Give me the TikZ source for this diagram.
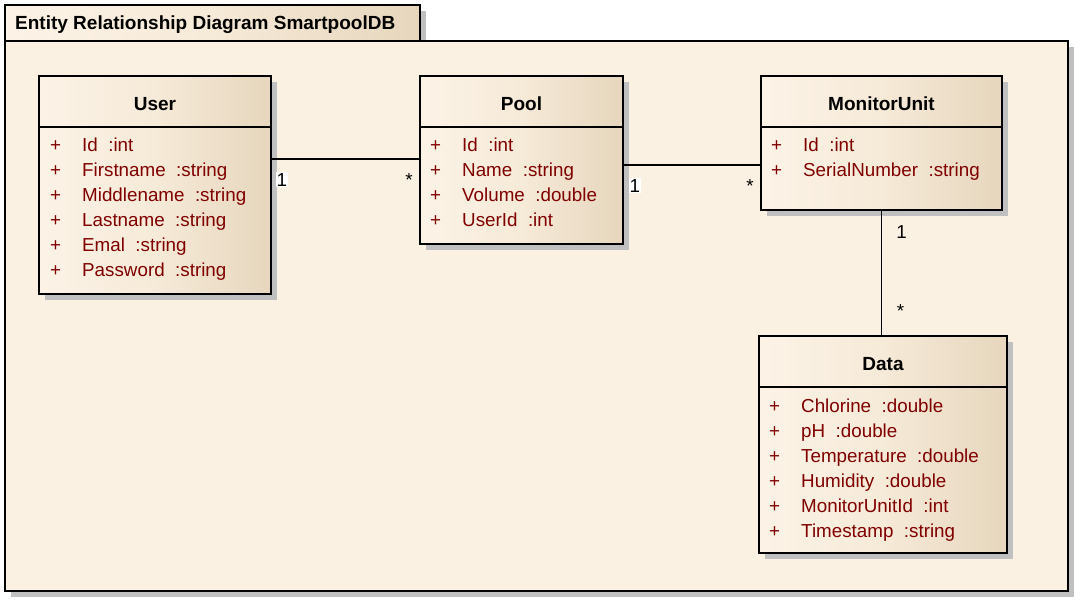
\documentclass[tikz,border=0pt]{standalone}
\usepackage{fontspec}
\setmainfont{Liberation Sans}
\usetikzlibrary{shadows}
\definecolor{framebg}{RGB}{251,241,227}
\definecolor{boxlight}{RGB}{252,243,231}
\definecolor{boxmid}{RGB}{246,234,216}
\definecolor{boxdark}{RGB}{230,214,189}
\definecolor{shadowgray}{RGB}{192,192,192}
\definecolor{attrred}{RGB}{128,0,0}
\pgfdeclarehorizontalshading{entshade}{100bp}{color(0bp)=(boxlight); color(25bp)=(boxlight); color(50bp)=(boxmid); color(75bp)=(boxdark); color(100bp)=(boxdark)}
\tikzstyle{entbox} = [rectangle, draw, line width=1.9pt, inner sep=0pt, shade, shading=entshade, drop shadow={shadow xshift=6pt, shadow yshift=-6pt, fill=shadowgray, opacity=1}]
\tikzstyle{pkgframe} = [rectangle, draw, line width=1.9pt, inner sep=0pt, fill=framebg, drop shadow={shadow xshift=6pt, shadow yshift=-6pt, fill=shadowgray, opacity=1}]
\tikzstyle{enttitle} = [font=\fontsize{19}{23}\selectfont\bfseries, inner sep=0pt]
\tikzstyle{attrs} = [font=\fontsize{18.8}{25}\selectfont, text=attrred, inner sep=0pt, anchor=base west]
\tikzstyle{mult} = [font=\fontsize{18.8}{22}\selectfont, inner sep=1pt, anchor=base]
\tikzstyle{multbg} = [mult, fill=white]
\tikzstyle{link} = [line width=1.9pt]

\begin{document}
\begin{tikzpicture}[x=1pt, y=-1pt]
            \useasboundingbox (0,0) rectangle (1081,607);

            % package frame
            \node [entbox, minimum width=415pt, minimum height=36pt] at (212.5,23) (tab) {};
            \node [pkgframe, minimum width=1063pt, minimum height=550pt] at (536.5,316) (frame) {};
            \node [enttitle, anchor=base west] at (15,29.5) (tabtitle) {Entity Relationship Diagram SmartpoolDB};

            % entities
            \node [entbox, minimum width=232pt, minimum height=218pt] at (155,185) (user) {};
            \draw [link] ([yshift=-52pt]user.north west) -- ([yshift=-52pt]user.north east);
            \node [enttitle] at (155,104) (usertitle) {User};
            \node [attrs] at (50,151) (userattrs) {\begin{tabular}[t]{@{}p{32pt}@{}l@{}}
                + & Id\ \ :int\\
                + & Firstname\ \ :string\\
                + & Middlename\ \ :string\\
                + & Lastname\ \ :string\\
                + & Emal\ \ :string\\
                + & Password\ \ :string
            \end{tabular}};

            \node [entbox, minimum width=203pt, minimum height=168pt] at (521.5,160) (pool) {};
            \draw [link] ([yshift=-52pt]pool.north west) -- ([yshift=-52pt]pool.north east);
            \node [enttitle] at (521.5,104) (pooltitle) {Pool};
            \node [attrs] at (430,151) (poolattrs) {\begin{tabular}[t]{@{}p{32pt}@{}l@{}}
                + & Id\ \ :int\\
                + & Name\ \ :string\\
                + & Volume\ \ :double\\
                + & UserId\ \ :int
            \end{tabular}};

            \node [entbox, minimum width=241pt, minimum height=134pt] at (881.5,143) (monitor) {};
            \draw [link] ([yshift=-52pt]monitor.north west) -- ([yshift=-52pt]monitor.north east);
            \node [enttitle] at (881.5,104) (monitortitle) {MonitorUnit};
            \node [attrs] at (771,151) (monitorattrs) {\begin{tabular}[t]{@{}p{32pt}@{}l@{}}
                + & Id\ \ :int\\
                + & SerialNumber\ \ :string
            \end{tabular}};

            \node [entbox, minimum width=248pt, minimum height=217pt] at (883,444.5) (data) {};
            \draw [link] ([yshift=-52pt]data.north west) -- ([yshift=-52pt]data.north east);
            \node [enttitle] at (883,364) (datatitle) {Data};
            \node [attrs] at (769,412) (dataattrs) {\begin{tabular}[t]{@{}p{32pt}@{}l@{}}
                + & Chlorine\ \ :double\\
                + & pH\ \ :double\\
                + & Temperature\ \ :double\\
                + & Humidity\ \ :double\\
                + & MonitorUnitId\ \ :int\\
                + & Timestamp\ \ :string
            \end{tabular}};

            % relations
            \draw [link] ([yshift=-84pt]user.north east) -- ([yshift=-84pt]pool.north west)
                node [multbg, at start, xshift=10pt, yshift=-27pt] {1}
                node [mult, at end, xshift=-10pt, yshift=-27pt] {*};
            \draw [link] ([yshift=-90pt]pool.north east) -- ([yshift=-90pt]monitor.north west)
                node [multbg, at start, xshift=11pt, yshift=-27pt] {1}
                node [mult, at end, xshift=-10pt, yshift=-27pt] {*};
            \draw [link] (monitor.south) -- (monitor.south |- data.north)
                node [mult, at start, xshift=20pt, yshift=-28pt] {1}
                node [mult, at end, xshift=19pt, yshift=18pt] {*};
\end{tikzpicture}
\end{document}
